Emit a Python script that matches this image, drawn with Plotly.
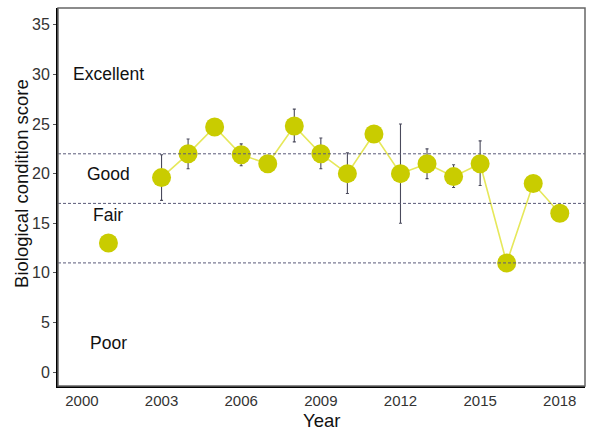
import plotly.graph_objects as go

# Annual biological condition scores
years = [2001, 2003, 2004, 2005, 2006, 2007, 2008, 2009, 2010, 2011,
         2012, 2013, 2014, 2015, 2016, 2017, 2018]
scores = [13, 19.6, 22, 24.7, 21.9, 21, 24.8, 22, 20, 24,
          20, 21, 19.7, 21, 11, 19, 16]
# error bar extents (0 where there is only one sample)
err_hi = [0, 2.3, 1.5, 0, 1.1, 0, 1.7, 1.6, 2.1, 0,
          5.0, 1.5, 1.2, 2.3, 0, 0, 0]
err_lo = [0, 2.3, 1.5, 0, 1.1, 0, 1.6, 1.5, 2.0, 0,
          5.0, 1.5, 1.1, 2.2, 0, 0, 0]

# condition class thresholds and labels
thresholds = [22, 17, 11]
class_labels = ["Excellent", "Good", "Fair", "Poor"]
class_label_y = [30, 20, 15.8, 2.9]
class_label_x = 2001

x_ticks = [2000, 2003, 2006, 2009, 2012, 2015, 2018]
y_ticks = [0, 5, 10, 15, 20, 25, 30, 35]

FONT = "Liberation Sans, Arial, sans-serif"

fig = go.Figure()

# connecting line (2001 stands alone; 2002 missing)
fig.add_trace(go.Scatter(
    x=years[1:], y=scores[1:], mode="lines",
    line=dict(color="#e6e85a", width=1.6),
    hoverinfo="skip", showlegend=False,
))

fig.add_trace(go.Scatter(
    x=years, y=scores, mode="markers",
    marker=dict(color="#c9cc00", size=19, line=dict(width=0)),
    error_y=dict(type="data", symmetric=False,
                 array=err_hi, arrayminus=err_lo,
                 color="#4a4a5c", thickness=1.1, width=1.5),
    showlegend=False,
))

for t in thresholds:
    fig.add_shape(type="line", xref="paper", x0=0, x1=1, y0=t, y1=t,
                  line=dict(color="#5a5a78", width=1, dash="3px,2px"),
                  layer="above")

for lab, ly in zip(class_labels, class_label_y):
    fig.add_annotation(x=class_label_x, y=ly, text=lab, showarrow=False,
                       font=dict(family=FONT, size=17.5, color="#111111"),
                       xanchor="center", yanchor="middle")

# axis titles
fig.add_annotation(xref="paper", yref="paper", x=0.5, y=-46 / 378,
                   text="Year", showarrow=False,
                   font=dict(family=FONT, size=18.5, color="#111111"),
                   xanchor="center", yanchor="bottom", borderpad=0)
fig.add_annotation(xref="paper", yref="paper", x=-0.068, y=0.535,
                   text="Biological condition score", textangle=-90,
                   showarrow=False,
                   font=dict(family=FONT, size=18.5, color="#111111"),
                   xanchor="center", yanchor="middle")

# gray frame for top/right edges
fig.add_shape(type="rect", xref="paper", yref="paper", x0=0, x1=1, y0=0, y1=1,
              line=dict(color="#666666", width=1.5), layer="above")

fig.update_layout(
    width=592, height=432,
    margin=dict(l=58, r=7, t=8, b=46, autoexpand=False),
    paper_bgcolor="white", plot_bgcolor="white",
    font=dict(family=FONT, color="#333333"),
)
fig.update_xaxes(
    range=[1999.1, 2018.95], tickvals=x_ticks, automargin=False,
    showgrid=False, zeroline=False,
    showline=True, linecolor="black", linewidth=2,
    ticks="",
    tickfont=dict(size=15, color="#333333"),
)
fig.update_yaxes(
    range=[-1.41, 36.7], tickvals=y_ticks, automargin=False,
    showgrid=False, zeroline=False,
    showline=True, linecolor="black", linewidth=2,
    ticks="outside", ticklen=3, tickcolor="#555555",
    tickfont=dict(size=16, color="#333333"),
)

fig.write_html("out.html")
